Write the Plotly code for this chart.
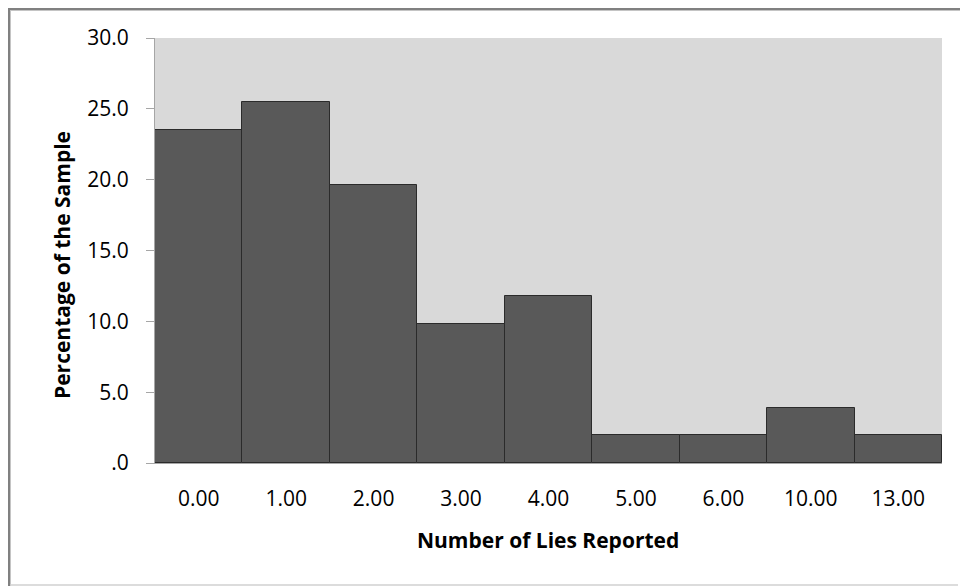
import plotly.graph_objects as go

categories = ["0.00", "1.00", "2.00", "3.00", "4.00", "5.00", "6.00", "10.00", "13.00"]
percentages = [23.5, 25.5, 19.6, 9.8, 11.8, 2.0, 2.0, 3.9, 2.0]
y_tick_vals = [0, 5, 10, 15, 20, 25, 30]
y_tick_text = [".0", "5.0", "10.0", "15.0", "20.0", "25.0", "30.0"]

FONT = "'Open Sans', sans-serif"

W, H = 960, 586
PL, PT, PW, PH = 155, 38, 787, 425  # plot area in pixels


def px(x):
    return (x - PL) / PW


def py(y):
    return (PT + PH - y) / PH


fig = go.Figure(go.Bar(
    x=categories, y=percentages,
    marker=dict(color="#595959", line=dict(color="#2b2b2b", width=1)),
    hoverinfo="x+y",
))

fig.update_layout(
    width=W, height=H,
    margin=dict(l=PL, r=W - PL - PW, t=PT, b=H - PT - PH),
    paper_bgcolor="white", plot_bgcolor="#d9d9d9",
    bargap=0, showlegend=False,
    font=dict(family=FONT, size=21, color="#000000"),
    xaxis=dict(
        type="category", showgrid=False, ticks="",
        showline=True, linecolor="#a6a6a6", linewidth=1,
        ticklabelstandoff=17,
        tickfont=dict(size=21),
    ),
    yaxis=dict(
        range=[0, 30], tickvals=y_tick_vals, ticktext=y_tick_text,
        showgrid=False, zeroline=False,
        showline=True, linecolor="#a6a6a6", linewidth=1,
        ticks="outside", ticklen=8, tickcolor="#a6a6a6",
        ticklabelstandoff=13,
        tickfont=dict(size=21),
    ),
    annotations=[
        dict(text="<b>Number of Lies Reported</b>", xref="paper", yref="paper",
             x=px(548), y=py(540), xanchor="center", yanchor="middle",
             showarrow=False, font=dict(size=21)),
        dict(text="<b>Percentage of the Sample</b>", xref="paper", yref="paper",
             x=px(62), y=py(265), xanchor="center", yanchor="middle",
             textangle=-90, showarrow=False, font=dict(size=21)),
    ],
    shapes=[
        dict(type="line", xref="paper", yref="paper",
             x0=px(9), x1=px(975), y0=py(10.5), y1=py(10.5),
             line=dict(color="#c4c4c4", width=1)),
        dict(type="line", xref="paper", yref="paper",
             x0=px(10.5), x1=px(10.5), y0=py(9), y1=py(590),
             line=dict(color="#c4c4c4", width=1)),
        dict(type="line", xref="paper", yref="paper",
             x0=px(8), x1=px(975), y0=py(9), y1=py(9),
             line=dict(color="#808080", width=2)),
        dict(type="line", xref="paper", yref="paper",
             x0=px(9), x1=px(9), y0=py(8), y1=py(590),
             line=dict(color="#808080", width=2)),
        dict(type="line", xref="paper", yref="paper",
             x0=px(10), x1=px(958), y0=py(585), y1=py(585),
             line=dict(color="#d0d0d0", width=1.5)),
    ],
)

fig.write_html(
    "out.html",
    config={"displayModeBar": False},
    post_script=(
        "document.body.style.margin='0';"
        "document.body.style.overflow='hidden';"
        "document.documentElement.style.overflow='hidden';"
    ),
)
